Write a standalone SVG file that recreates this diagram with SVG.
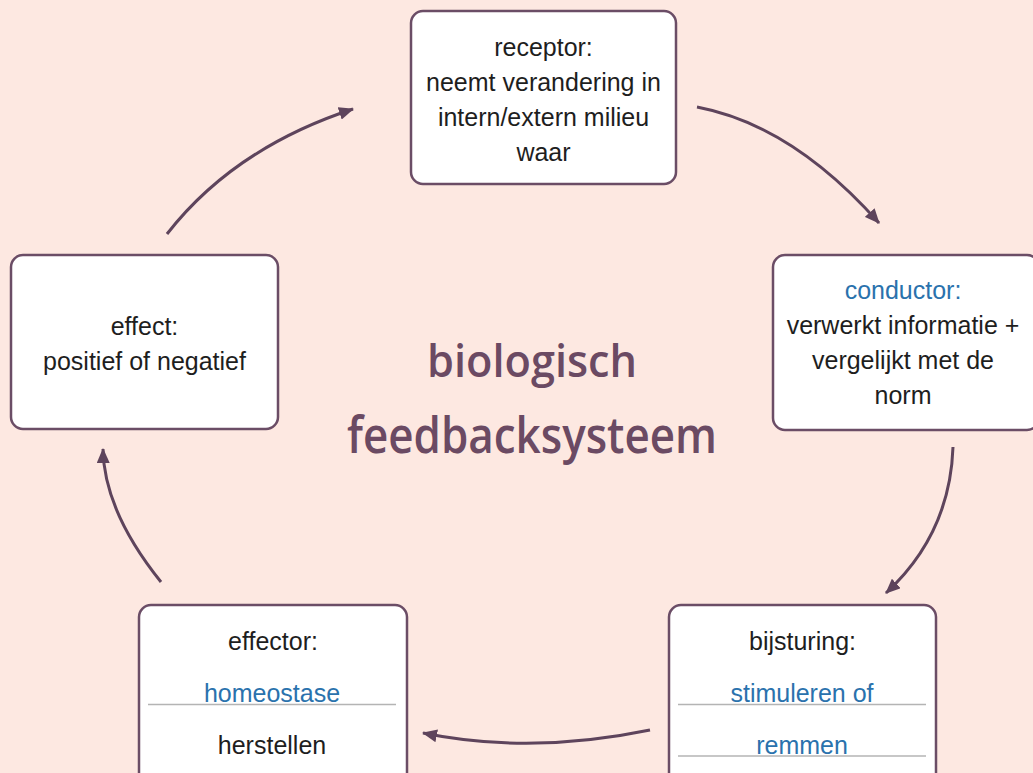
<svg xmlns="http://www.w3.org/2000/svg" width="1033" height="773" viewBox="0 0 1033 773">
  <defs>
    <style>
      .box { fill: #ffffff; stroke: #6b4d66; stroke-width: 2.5; }
      .txt { font-family: "Liberation Sans", Arial, sans-serif; font-size: 25px; fill: #1e1e1e; text-anchor: middle; }
      .blue { fill: #2a72ad; }
      .rule { stroke: #b4b4b4; stroke-width: 1.5; }
      .title { font-family: "Open Sans", "Liberation Sans", sans-serif; font-weight: 600; fill: #6b4a63; text-anchor: middle; }
      .conn { fill: none; stroke: #5e445c; stroke-width: 3; marker-end: url(#head); }
    </style>
    <marker id="head" viewBox="0 0 15 13" refX="14" refY="6.5" markerWidth="15" markerHeight="13" markerUnits="userSpaceOnUse" orient="auto">
      <path d="M0,0 L15,6.5 L0,13 z" fill="#5e445c"/>
    </marker>
  </defs>

  <!-- background -->
  <rect x="0" y="0" width="1033" height="773" fill="#fde8e1"/>

  <!-- centre title -->
  <g id="title">
    <text class="title" x="532" y="377" font-size="45" textLength="210" lengthAdjust="spacingAndGlyphs">biologisch</text>
    <text class="title" x="532" y="453" font-size="50" textLength="370" lengthAdjust="spacingAndGlyphs">feedbacksysteem</text>
  </g>

  <!-- connectors -->
  <g id="connectors">
    <path class="conn" d="M697,107 Q792,125 879,223"/>
    <path class="conn" d="M953,447 Q950,534 886,593"/>
    <path class="conn" d="M650,730 Q530,755 423,733"/>
    <path class="conn" d="M161,582 Q104,511 103,449"/>
    <path class="conn" d="M167,234 Q234,148 353,109"/>
  </g>

  <g id="receptor">
    <rect class="box" x="411" y="11" width="265" height="173" rx="12"/>
    <text class="txt" x="543.5" y="56">receptor:</text>
    <text class="txt" x="543.5" y="91">neemt verandering in</text>
    <text class="txt" x="543.5" y="126">intern/extern milieu</text>
    <text class="txt" x="543.5" y="161">waar</text>
  </g>

  <g id="conductor">
    <rect class="box" x="773" y="255" width="266" height="175" rx="12"/>
    <text class="txt blue" x="903" y="299">conductor:</text>
    <text class="txt" x="903" y="334">verwerkt informatie +</text>
    <text class="txt" x="903" y="369">vergelijkt met de</text>
    <text class="txt" x="903" y="404">norm</text>
  </g>

  <g id="bijsturing">
    <rect class="box" x="669" y="605" width="267" height="185" rx="12"/>
    <text class="txt" x="802.5" y="650">bijsturing:</text>
    <text class="txt blue" x="802" y="702">stimuleren of</text>
    <line class="rule" x1="678" y1="704.5" x2="926" y2="704.5"/>
    <text class="txt blue" x="802" y="754">remmen</text>
    <line class="rule" x1="678" y1="756" x2="926" y2="756"/>
  </g>

  <g id="effector">
    <rect class="box" x="139" y="605" width="268" height="185" rx="12"/>
    <text class="txt" x="273" y="650">effector:</text>
    <text class="txt blue" x="272" y="702">homeostase</text>
    <line class="rule" x1="148" y1="704.5" x2="396" y2="704.5"/>
    <text class="txt" x="272" y="754">herstellen</text>
  </g>

  <g id="effect">
    <rect class="box" x="11" y="255" width="267" height="174" rx="12"/>
    <text class="txt" x="144.5" y="335">effect:</text>
    <text class="txt" x="144.5" y="370">positief of negatief</text>
  </g>
</svg>
